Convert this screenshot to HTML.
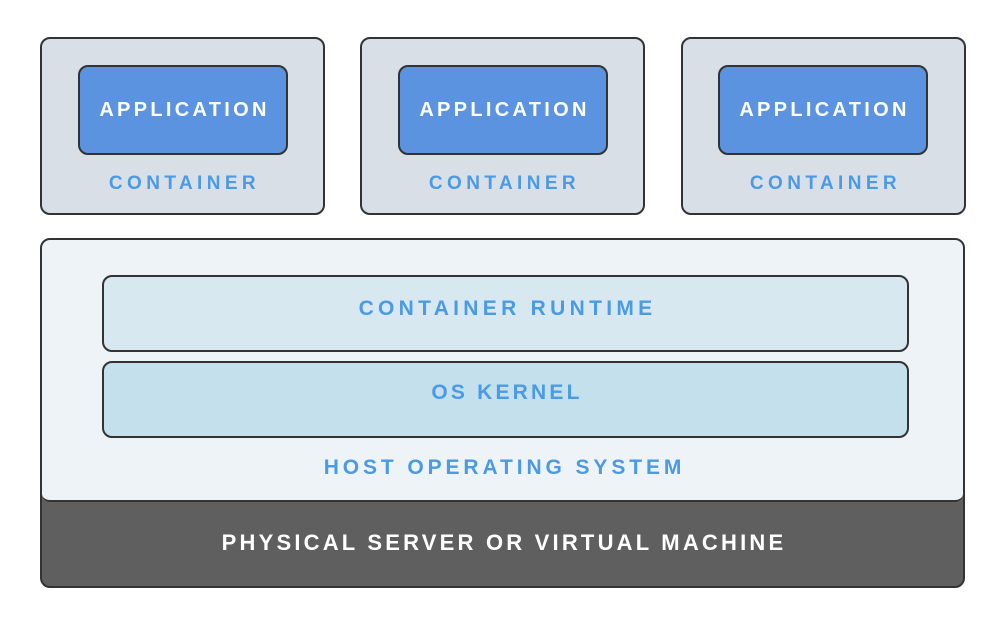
<!DOCTYPE html>
<html><head><style>
body{margin:0;width:1006px;height:628px;background:#fff;position:relative;overflow:hidden;font-family:"Liberation Sans",sans-serif;font-weight:bold}
.b{position:absolute;box-sizing:border-box;border:2px solid #333;border-radius:10px}
.t{position:absolute;text-align:center;line-height:1;box-sizing:border-box}
.c{background:#d9dfe6;width:285px;height:178px;top:37px}
.a{background:#5b93e0;width:210px;height:90px;top:65px;color:#fff;font-size:20px;display:flex;align-items:center;justify-content:center;letter-spacing:3.3px;padding-left:3px}
.cl{color:#4a9ae6;font-size:19px;top:174px;width:285px;letter-spacing:4.4px;padding-left:4px}
</style></head><body>
<div class="b c" style="left:40px"></div>
<div class="b c" style="left:360px"></div>
<div class="b c" style="left:681px"></div>
<div class="b a" style="left:78px">APPLICATION</div>
<div class="b a" style="left:398px">APPLICATION</div>
<div class="b a" style="left:718px">APPLICATION</div>
<div class="t cl" style="left:40px">CONTAINER</div>
<div class="t cl" style="left:360px">CONTAINER</div>
<div class="t cl" style="left:681px">CONTAINER</div>
<div class="b" style="left:40px;top:238px;width:925px;height:350px;background:#5f5f5f;overflow:hidden">
<div style="position:absolute;left:0;top:0;right:0;height:260px;background:#eef3f7;border-bottom:2px solid #333;border-radius:0 0 8px 8px"></div>
</div>
<div class="b" style="left:102px;top:275px;width:807px;height:77px;background:#d8e8f0"></div>
<div class="b" style="left:102px;top:361px;width:807px;height:77px;background:#c3e0ec"></div>
<div class="t" style="left:102px;width:807px;top:298px;font-size:21px;color:#4a9ae6;letter-spacing:4.3px;padding-left:4px">CONTAINER RUNTIME</div>
<div class="t" style="left:102px;width:807px;top:382px;font-size:21px;color:#4a9ae6;letter-spacing:3.2px;padding-left:3px">OS KERNEL</div>
<div class="t" style="left:40px;width:925px;top:457px;font-size:21px;color:#4a9ae6;letter-spacing:3.9px;padding-left:4px">HOST OPERATING SYSTEM</div>
<div class="t" style="left:40px;width:925px;top:532px;font-size:22px;color:#fff;letter-spacing:3.2px;padding-left:3px">PHYSICAL SERVER OR VIRTUAL MACHINE</div>
</body></html>
